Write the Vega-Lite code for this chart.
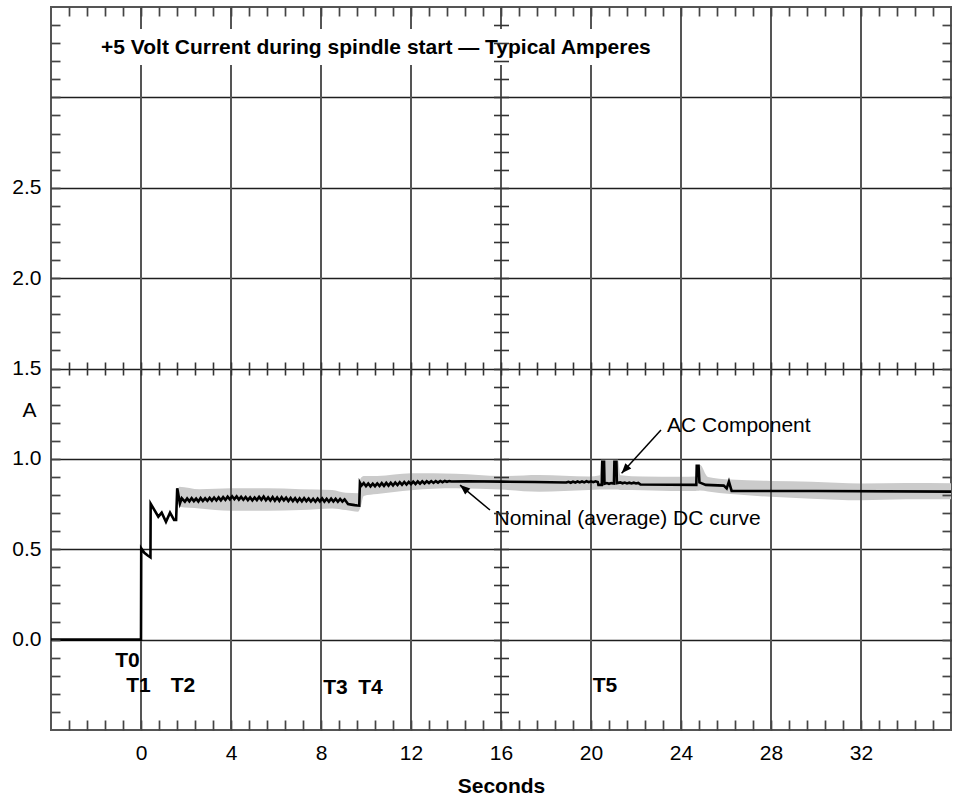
{
  "$schema": "https://vega.github.io/schema/vega-lite/v6.json",
  "description": "+5 Volt current during spindle start, typical amperes",
  "width": 900,
  "height": 723,
  "autosize": "none",
  "padding": {"left": 51, "top": 7, "right": 3, "bottom": 67},
  "background": "white",
  "datasets": {
    "line": [
      {"t": -4, "a": 0}, {"t": 0, "a": 0}, {"t": 0.01, "a": 0.505}, {"t": 0.15, "a": 0.48},
      {"t": 0.3, "a": 0.465}, {"t": 0.42, "a": 0.455}, {"t": 0.43, "a": 0.752}, {"t": 0.77, "a": 0.68},
      {"t": 0.92, "a": 0.702}, {"t": 1.11, "a": 0.652}, {"t": 1.29, "a": 0.702}, {"t": 1.47, "a": 0.662},
      {"t": 1.56, "a": 0.662}, {"t": 1.61, "a": 0.837}, {"t": 1.73, "a": 0.754}, {"t": 1.81, "a": 0.782},
      {"t": 1.95, "a": 0.763}, {"t": 2.05, "a": 0.781}, {"t": 2.15, "a": 0.765}, {"t": 2.25, "a": 0.782},
      {"t": 2.35, "a": 0.766}, {"t": 2.45, "a": 0.78}, {"t": 2.55, "a": 0.764}, {"t": 2.65, "a": 0.783},
      {"t": 2.75, "a": 0.767}, {"t": 2.85, "a": 0.782}, {"t": 2.95, "a": 0.768}, {"t": 3.05, "a": 0.784},
      {"t": 3.15, "a": 0.769}, {"t": 3.25, "a": 0.786}, {"t": 3.35, "a": 0.77}, {"t": 3.45, "a": 0.787},
      {"t": 3.55, "a": 0.771}, {"t": 3.65, "a": 0.788}, {"t": 3.75, "a": 0.773}, {"t": 3.85, "a": 0.791},
      {"t": 3.95, "a": 0.776}, {"t": 4.05, "a": 0.793}, {"t": 4.15, "a": 0.777}, {"t": 4.25, "a": 0.792},
      {"t": 4.35, "a": 0.775}, {"t": 4.45, "a": 0.79}, {"t": 4.55, "a": 0.774}, {"t": 4.65, "a": 0.789},
      {"t": 4.75, "a": 0.772}, {"t": 4.85, "a": 0.787}, {"t": 4.95, "a": 0.77}, {"t": 5.05, "a": 0.786},
      {"t": 5.15, "a": 0.772}, {"t": 5.25, "a": 0.79}, {"t": 5.35, "a": 0.774}, {"t": 5.45, "a": 0.791},
      {"t": 5.55, "a": 0.771}, {"t": 5.65, "a": 0.787}, {"t": 5.75, "a": 0.77}, {"t": 5.85, "a": 0.788},
      {"t": 5.95, "a": 0.769}, {"t": 6.05, "a": 0.786}, {"t": 6.15, "a": 0.768}, {"t": 6.25, "a": 0.787},
      {"t": 6.35, "a": 0.77}, {"t": 6.45, "a": 0.785}, {"t": 6.55, "a": 0.767}, {"t": 6.65, "a": 0.784},
      {"t": 6.75, "a": 0.766}, {"t": 6.85, "a": 0.782}, {"t": 6.95, "a": 0.764}, {"t": 7.05, "a": 0.781},
      {"t": 7.15, "a": 0.765}, {"t": 7.25, "a": 0.782}, {"t": 7.35, "a": 0.766}, {"t": 7.45, "a": 0.78},
      {"t": 7.55, "a": 0.764}, {"t": 7.65, "a": 0.779}, {"t": 7.75, "a": 0.763}, {"t": 7.85, "a": 0.78},
      {"t": 7.95, "a": 0.765}, {"t": 8.05, "a": 0.781}, {"t": 8.15, "a": 0.764}, {"t": 8.25, "a": 0.779},
      {"t": 8.35, "a": 0.763}, {"t": 8.45, "a": 0.78}, {"t": 8.55, "a": 0.764}, {"t": 8.65, "a": 0.779},
      {"t": 8.75, "a": 0.763}, {"t": 8.85, "a": 0.778}, {"t": 8.95, "a": 0.764}, {"t": 9.05, "a": 0.776},
      {"t": 9.2, "a": 0.75}, {"t": 9.35, "a": 0.747}, {"t": 9.5, "a": 0.744}, {"t": 9.62, "a": 0.742},
      {"t": 9.7, "a": 0.741}, {"t": 9.73, "a": 0.868}, {"t": 9.8, "a": 0.852}, {"t": 9.9, "a": 0.866},
      {"t": 10.0, "a": 0.849}, {"t": 10.1, "a": 0.864}, {"t": 10.2, "a": 0.848}, {"t": 10.3, "a": 0.863},
      {"t": 10.4, "a": 0.849}, {"t": 10.5, "a": 0.864}, {"t": 10.6, "a": 0.85}, {"t": 10.7, "a": 0.866},
      {"t": 10.8, "a": 0.851}, {"t": 10.9, "a": 0.867}, {"t": 11.0, "a": 0.852}, {"t": 11.1, "a": 0.868},
      {"t": 11.2, "a": 0.853}, {"t": 11.3, "a": 0.869}, {"t": 11.4, "a": 0.855}, {"t": 11.5, "a": 0.871},
      {"t": 11.6, "a": 0.857}, {"t": 11.7, "a": 0.872}, {"t": 11.8, "a": 0.858}, {"t": 11.9, "a": 0.873},
      {"t": 12.0, "a": 0.86}, {"t": 12.1, "a": 0.874}, {"t": 12.2, "a": 0.861}, {"t": 12.3, "a": 0.875},
      {"t": 12.4, "a": 0.863}, {"t": 12.5, "a": 0.876}, {"t": 12.6, "a": 0.864}, {"t": 12.7, "a": 0.876},
      {"t": 12.8, "a": 0.866}, {"t": 12.9, "a": 0.877}, {"t": 13.0, "a": 0.867}, {"t": 13.1, "a": 0.877},
      {"t": 13.2, "a": 0.869}, {"t": 13.3, "a": 0.878}, {"t": 13.4, "a": 0.871}, {"t": 13.5, "a": 0.878},
      {"t": 13.6, "a": 0.873}, {"t": 13.7, "a": 0.877}, {"t": 13.8, "a": 0.875}, {"t": 14.5, "a": 0.876},
      {"t": 16, "a": 0.874}, {"t": 17.5, "a": 0.872}, {"t": 18.9, "a": 0.869}, {"t": 19.0, "a": 0.873},
      {"t": 19.1, "a": 0.868}, {"t": 19.2, "a": 0.874}, {"t": 19.3, "a": 0.869}, {"t": 19.4, "a": 0.875},
      {"t": 19.5, "a": 0.87}, {"t": 19.6, "a": 0.875}, {"t": 19.7, "a": 0.87}, {"t": 19.8, "a": 0.876},
      {"t": 19.9, "a": 0.871}, {"t": 20.0, "a": 0.876}, {"t": 20.1, "a": 0.871}, {"t": 20.2, "a": 0.876},
      {"t": 20.3, "a": 0.872}, {"t": 20.33, "a": 0.856}, {"t": 20.48, "a": 0.856}, {"t": 20.5, "a": 0.984},
      {"t": 20.58, "a": 0.984}, {"t": 20.6, "a": 0.862}, {"t": 20.7, "a": 0.866}, {"t": 20.8, "a": 0.862},
      {"t": 20.9, "a": 0.866}, {"t": 21.02, "a": 0.864}, {"t": 21.04, "a": 0.984}, {"t": 21.13, "a": 0.984},
      {"t": 21.15, "a": 0.866}, {"t": 21.3, "a": 0.87}, {"t": 21.4, "a": 0.865}, {"t": 21.5, "a": 0.869},
      {"t": 21.6, "a": 0.864}, {"t": 21.7, "a": 0.868}, {"t": 21.8, "a": 0.864}, {"t": 21.9, "a": 0.868},
      {"t": 22.0, "a": 0.864}, {"t": 22.1, "a": 0.867}, {"t": 22.2, "a": 0.858}, {"t": 23.5, "a": 0.857},
      {"t": 24.68, "a": 0.856}, {"t": 24.7, "a": 0.962}, {"t": 24.78, "a": 0.962}, {"t": 24.82, "a": 0.87},
      {"t": 24.9, "a": 0.866}, {"t": 25.1, "a": 0.856}, {"t": 25.9, "a": 0.852}, {"t": 26.03, "a": 0.837},
      {"t": 26.13, "a": 0.874}, {"t": 26.25, "a": 0.823}, {"t": 30, "a": 0.822}, {"t": 36, "a": 0.819}
    ],
    "band": [
      {"t": 1.62, "lo": 0.77, "hi": 0.81}, {"t": 1.7, "lo": 0.735, "hi": 0.846}, {"t": 2.6, "lo": 0.726, "hi": 0.832},
      {"t": 4, "lo": 0.713, "hi": 0.837}, {"t": 5.6, "lo": 0.713, "hi": 0.837}, {"t": 7.1, "lo": 0.717, "hi": 0.832},
      {"t": 8.5, "lo": 0.726, "hi": 0.828}, {"t": 9.1, "lo": 0.717, "hi": 0.812}, {"t": 9.65, "lo": 0.708, "hi": 0.81},
      {"t": 9.75, "lo": 0.73, "hi": 0.89}, {"t": 9.9, "lo": 0.795, "hi": 0.905}, {"t": 10.5, "lo": 0.805, "hi": 0.905},
      {"t": 12, "lo": 0.827, "hi": 0.92}, {"t": 14, "lo": 0.837, "hi": 0.918}, {"t": 16, "lo": 0.83, "hi": 0.905},
      {"t": 17.7, "lo": 0.818, "hi": 0.911}, {"t": 19.9, "lo": 0.828, "hi": 0.903}, {"t": 20.4, "lo": 0.83, "hi": 0.91},
      {"t": 20.45, "lo": 0.83, "hi": 0.995}, {"t": 21.2, "lo": 0.83, "hi": 0.995}, {"t": 21.3, "lo": 0.828, "hi": 0.91},
      {"t": 22.3, "lo": 0.827, "hi": 0.903}, {"t": 24, "lo": 0.822, "hi": 0.901}, {"t": 24.66, "lo": 0.822, "hi": 0.903},
      {"t": 24.72, "lo": 0.823, "hi": 0.962}, {"t": 24.84, "lo": 0.825, "hi": 0.968}, {"t": 25.2, "lo": 0.82, "hi": 0.9},
      {"t": 26.2, "lo": 0.805, "hi": 0.886}, {"t": 28, "lo": 0.79, "hi": 0.878}, {"t": 29.8, "lo": 0.78, "hi": 0.874},
      {"t": 32, "lo": 0.771, "hi": 0.864}, {"t": 34, "lo": 0.776, "hi": 0.866}, {"t": 36, "lo": 0.776, "hi": 0.865}
    ],
    "gridx": [
      {"t": 0}, {"t": 4}, {"t": 8}, {"t": 12}, {"t": 16}, {"t": 20}, {"t": 24}, {"t": 28}, {"t": 32}
    ],
    "title": [
      {"t": -1.778, "a": 3.238, "label": "+5 Volt Current during spindle start — Typical Amperes"}
    ],
    "tlabels": [
      {"t": -0.6, "a": -0.118, "label": "T0"},
      {"t": -0.111, "a": -0.257, "label": "T1"},
      {"t": 1.867, "a": -0.257, "label": "T2"},
      {"t": 8.644, "a": -0.268, "label": "T3"},
      {"t": 10.2, "a": -0.268, "label": "T4"},
      {"t": 20.62, "a": -0.257, "label": "T5"}
    ],
    "notes": [
      {"t": 23.38, "a": 1.182, "label": "AC Component"},
      {"t": 15.71, "a": 0.666, "label": "Nominal (average) DC curve"}
    ],
    "arrows": [
      {"name": "ac", "t": 23.11, "a": 1.16, "t2": 21.36, "a2": 0.92},
      {"name": "dc", "t": 15.51, "a": 0.717, "t2": 14.18, "a2": 0.855}
    ]
  },
  "resolve": {"axis": {"x": "independent", "y": "independent"}},
  "layer": [
    {
      "data": {"name": "band"},
      "mark": {"type": "area", "color": "#cbcbcb", "interpolate": "monotone"},
      "encoding": {
        "x": {
          "field": "t", "type": "quantitative",
          "scale": {"domain": [-4, 36], "nice": false, "zero": false},
          "axis": {
            "orient": "top", "offset": -723, "title": null,
            "values": [-3.2,-2.4,-1.6,-0.8,0,0.8,1.6,2.4,3.2,4,4.8,5.6,6.4,7.2,8,8.8,9.6,10.4,11.2,12,12.8,13.6,14.4,15.2,16,16.8,17.6,18.4,19.2,20,20.8,21.6,22.4,23.2,24,24.8,25.6,26.4,27.2,28,28.8,29.6,30.4,31.2,32,32.8,33.6,34.4,35.2],
            "tickSize": 10, "tickColor": "#444", "tickWidth": 1.7,
            "labels": false, "domain": false, "grid": false, "zindex": 1
          }
        },
        "y": {
          "field": "lo", "type": "quantitative",
          "scale": {"domain": [-0.5, 3.5], "nice": false, "zero": false},
          "axis": {
            "orient": "right", "offset": -900, "title": null,
            "values": [-0.4,-0.3,-0.2,-0.1,0,0.1,0.2,0.3,0.4,0.5,0.6,0.7,0.8,0.9,1,1.1,1.2,1.3,1.4,1.5,1.6,1.7,1.8,1.9,2,2.1,2.2,2.3,2.4,2.5,2.6,2.7,2.8,2.9,3,3.1,3.2,3.3,3.4],
            "tickSize": 9, "tickColor": "#444", "tickWidth": 1.7,
            "labels": false, "domain": false, "grid": false, "zindex": 1
          }
        },
        "y2": {"field": "hi"}
      }
    },
    {
      "data": {"name": "gridx"},
      "mark": {"type": "rule", "color": "#555", "strokeWidth": 2},
      "encoding": {
        "x": {
          "field": "t", "type": "quantitative",
          "scale": {"domain": [-4, 36], "nice": false, "zero": false},
          "axis": null
        }
      }
    },
    {
      "data": {"name": "title"},
      "mark": {"type": "rect", "color": "white"},
      "encoding": {
        "x": {"datum": -2.0, "type": "quantitative", "scale": {"domain": [-4, 36], "nice": false, "zero": false}, "axis": null},
        "x2": {"datum": 23.24},
        "y": {"datum": 3.378, "type": "quantitative", "scale": {"domain": [-0.5, 3.5], "nice": false, "zero": false}, "axis": null},
        "y2": {"datum": 3.179}
      }
    },
    {
      "data": {"name": "line"},
      "mark": {"type": "line", "color": "black", "strokeWidth": 2.6, "strokeJoin": "miter"},
      "encoding": {
        "x": {
          "field": "t", "type": "quantitative",
          "scale": {"domain": [-4, 36], "nice": false, "zero": false},
          "axis": {
            "orient": "bottom", "values": [0, 4, 8, 12, 16, 20, 24, 28, 32], "format": "d",
            "ticks": false, "domain": false, "grid": false,
            "labelFontSize": 21, "labelColor": "black", "labelPadding": 29, "labelBaseline": "alphabetic",
            "title": "Seconds", "titleFontSize": 21, "titleFontWeight": "bold", "titleColor": "black",
            "titleX": 450, "titleY": 62, "titleBaseline": "alphabetic"
          }
        },
        "y": {
          "field": "a", "type": "quantitative",
          "scale": {"domain": [-0.5, 3.5], "nice": false, "zero": false},
          "axis": {
            "orient": "left", "values": [0, 0.5, 1, 1.5, 2, 2.5, 3],
            "labelExpr": "datum.value > 2.9 ? '' : format(datum.value, '.1f')",
            "ticks": false, "domain": false, "grid": true, "gridColor": "#1e1e1e", "gridWidth": 1.4,
            "labelFontSize": 21, "labelColor": "black", "labelPadding": 10, "labelBaseline": "middle",
            "title": "A", "titleAngle": 0, "titleX": -22, "titleY": 403, "titleAlign": "center",
            "titleBaseline": "middle", "titleFontSize": 21, "titleFontWeight": "normal", "titleColor": "black"
          }
        }
      }
    },
    {
      "data": {"name": "title"},
      "mark": {"type": "text", "align": "left", "baseline": "alphabetic", "fontSize": 21, "fontWeight": "bold", "color": "black"},
      "encoding": {
        "x": {"field": "t", "type": "quantitative", "scale": {"domain": [-4, 36], "nice": false, "zero": false}, "axis": null},
        "y": {"field": "a", "type": "quantitative", "scale": {"domain": [-0.5, 3.5], "nice": false, "zero": false}, "axis": null},
        "text": {"field": "label"}
      }
    },
    {
      "data": {"name": "tlabels"},
      "mark": {"type": "text", "align": "center", "baseline": "middle", "fontSize": 21, "fontWeight": "bold", "color": "black"},
      "encoding": {
        "x": {
          "field": "t", "type": "quantitative",
          "scale": {"domain": [-4, 36], "nice": false, "zero": false},
          "axis": {
            "orient": "bottom", "offset": -723, "title": null,
            "values": [-3.2,-2.4,-1.6,-0.8,0,0.8,1.6,2.4,3.2,4,4.8,5.6,6.4,7.2,8,8.8,9.6,10.4,11.2,12,12.8,13.6,14.4,15.2,16,16.8,17.6,18.4,19.2,20,20.8,21.6,22.4,23.2,24,24.8,25.6,26.4,27.2,28,28.8,29.6,30.4,31.2,32,32.8,33.6,34.4,35.2],
            "tickSize": 9, "tickColor": "#444", "tickWidth": 1.7,
            "labels": false, "domain": false, "grid": false, "zindex": 1
          }
        },
        "y": {
          "field": "a", "type": "quantitative",
          "scale": {"domain": [-0.5, 3.5], "nice": false, "zero": false},
          "axis": {
            "orient": "left", "offset": -900, "title": null,
            "values": [-0.4,-0.3,-0.2,-0.1,0,0.1,0.2,0.3,0.4,0.5,0.6,0.7,0.8,0.9,1,1.1,1.2,1.3,1.4,1.5,1.6,1.7,1.8,1.9,2,2.1,2.2,2.3,2.4,2.5,2.6,2.7,2.8,2.9,3,3.1,3.2,3.3,3.4],
            "tickSize": 9, "tickColor": "#444", "tickWidth": 1.7,
            "labels": false, "domain": false, "grid": false, "zindex": 1
          }
        },
        "text": {"field": "label"}
      }
    },
    {
      "data": {"name": "notes"},
      "mark": {"type": "text", "align": "left", "baseline": "middle", "fontSize": 21, "color": "black"},
      "encoding": {
        "x": {
          "field": "t", "type": "quantitative",
          "scale": {"domain": [-4, 36], "nice": false, "zero": false},
          "axis": {
            "orient": "top", "offset": -368, "title": null,
            "values": [-3.2,-2.4,-1.6,-0.8,0,0.8,1.6,2.4,3.2,4,4.8,5.6,6.4,7.2,8,8.8,9.6,10.4,11.2,12,12.8,13.6,14.4,15.2,16,16.8,17.6,18.4,19.2,20,20.8,21.6,22.4,23.2,24,24.8,25.6,26.4,27.2,28,28.8,29.6,30.4,31.2,32,32.8,33.6,34.4,35.2],
            "tickSize": 13, "tickColor": "#333", "tickWidth": 1.6,
            "labels": false, "domain": false, "grid": false, "zindex": 1
          }
        },
        "y": {
          "field": "a", "type": "quantitative",
          "scale": {"domain": [-0.5, 3.5], "nice": false, "zero": false},
          "axis": {
            "orient": "left", "offset": -457.5, "title": null,
            "values": [-0.4,-0.3,-0.2,-0.1,0,0.1,0.2,0.3,0.4,0.5,0.6,0.7,0.8,0.9,1,1.1,1.2,1.3,1.4,1.5,1.6,1.7,1.8,1.9,2,2.1,2.2,2.3,2.4,2.5,2.6,2.7,2.8,2.9,3,3.1,3.2,3.3,3.4],
            "tickSize": 15, "tickColor": "#333", "tickWidth": 1.6,
            "labels": false, "domain": false, "grid": false, "zindex": 1
          }
        },
        "text": {"field": "label"}
      }
    },
    {
      "data": {"name": "arrows"},
      "mark": {"type": "rule", "color": "black", "strokeWidth": 1.5},
      "encoding": {
        "x": {"field": "t", "type": "quantitative", "scale": {"domain": [-4, 36], "nice": false, "zero": false}, "axis": null},
        "y": {"field": "a", "type": "quantitative", "scale": {"domain": [-0.5, 3.5], "nice": false, "zero": false}, "axis": null},
        "x2": {"field": "t2"},
        "y2": {"field": "a2"}
      }
    },
    {
      "data": {"name": "arrows"},
      "transform": [{"filter": "datum.name === 'ac'"}],
      "mark": {"type": "point", "shape": "M0,0L-0.4,1L0.4,1Z", "size": 400, "filled": true, "opacity": 1, "color": "black", "angle": 222},
      "encoding": {
        "x": {"field": "t2", "type": "quantitative", "scale": {"domain": [-4, 36], "nice": false, "zero": false}, "axis": null},
        "y": {"field": "a2", "type": "quantitative", "scale": {"domain": [-0.5, 3.5], "nice": false, "zero": false}, "axis": null}
      }
    },
    {
      "data": {"name": "arrows"},
      "transform": [{"filter": "datum.name === 'dc'"}],
      "mark": {"type": "point", "shape": "M0,0L-0.4,1L0.4,1Z", "size": 400, "filled": true, "opacity": 1, "color": "black", "angle": 310},
      "encoding": {
        "x": {"field": "t2", "type": "quantitative", "scale": {"domain": [-4, 36], "nice": false, "zero": false}, "axis": null},
        "y": {"field": "a2", "type": "quantitative", "scale": {"domain": [-0.5, 3.5], "nice": false, "zero": false}, "axis": null}
      }
    }
  ],
  "config": {
    "font": "Liberation Sans",
    "view": {"stroke": "#555", "strokeWidth": 2}
  }
}
